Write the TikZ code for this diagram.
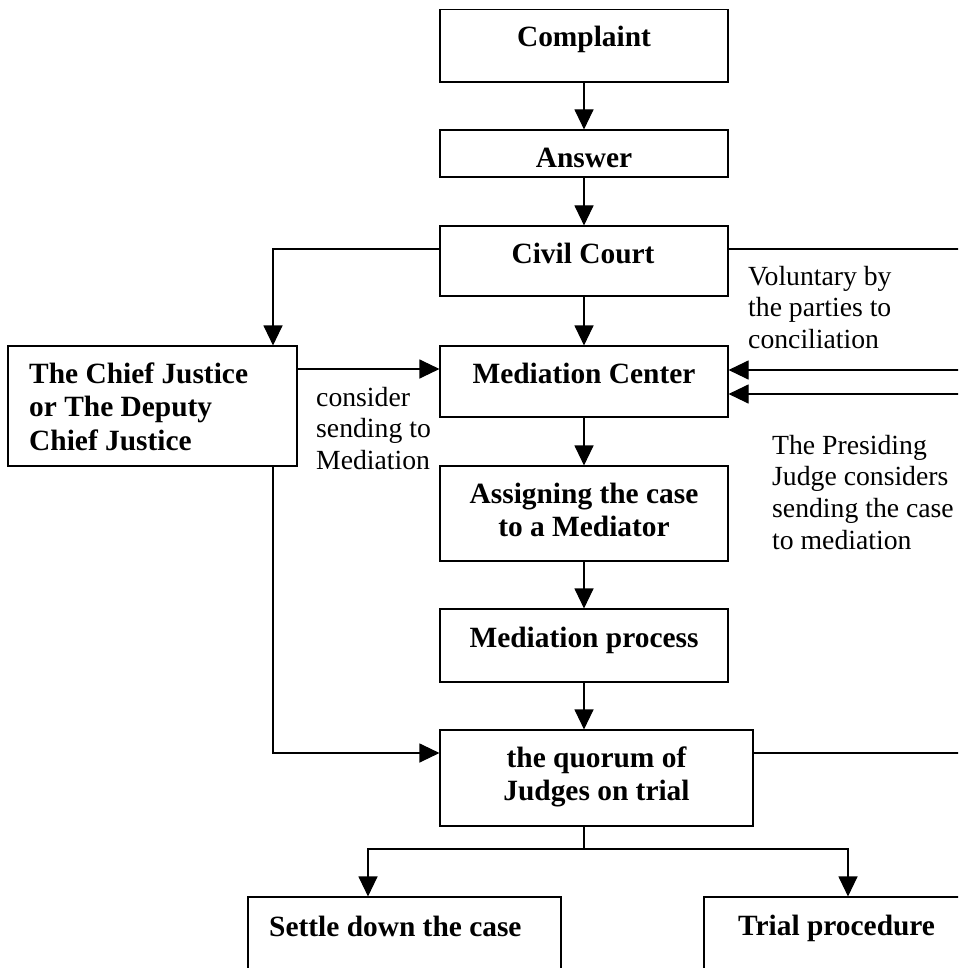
\documentclass[tikz,border=0pt]{standalone}
\usepackage{fontspec}
\setmainfont{Liberation Serif}
\usetikzlibrary{arrows.meta}
\begin{document}
\begin{tikzpicture}[x=1pt,y=-1pt,
  box/.style={draw, line width=1.1pt, inner sep=0pt, minimum width=288pt},
  ln/.style={line width=1.1pt},
  arr/.style={line width=1.1pt, -{Triangle[length=20pt,width=19pt]}},
  bt/.style={font=\fontsize{29.4}{33.5}\selectfont\bfseries, inner sep=0pt},
  nt/.style={font=\fontsize{27.7}{31.8}\selectfont, inner sep=0pt}]
\useasboundingbox (0,0) rectangle (958,968);
\clip (0,0) rectangle (958,968);
% boxes
\node[box, minimum height=72.5pt] (comp) at (584,45.75) {};
\node[box, minimum height=47pt] (ans) at (584,153.5) {};
\node[box, minimum height=70pt] (civ) at (584,261) {};
\node[box, minimum height=71pt] (mc) at (584,381.5) {};
\node[box, minimum height=95pt] (asg) at (584,513.5) {};
\node[box, minimum height=73pt] (mp) at (584,645.5) {};
\node[box, minimum width=313pt, minimum height=96pt] (quo) at (596.5,778) {};
\node[box, minimum width=289pt, minimum height=120pt] (cj) at (152.5,406) {};
\node[box, minimum width=313pt, minimum height=103pt] (set) at (404.5,948.5) {};
\node[box, minimum width=306pt, minimum height=103pt] (tri) at (857,948.5) {};
% texts
\node[bt, anchor=base] (tcomp) at (584,47) {Complaint};
\node[bt, anchor=base] (tans) at (584,168) {Answer};
\node[bt, anchor=base] (tciv) at (583,263) {Civil Court};
\node[bt, anchor=base] (tmc) at (584,383) {Mediation Center};
\node[bt, anchor=base] (tasg) at (584,503) {\begin{tabular}[t]{@{}c@{}}Assigning the case\\ to a Mediator\end{tabular}};
\node[bt, anchor=base] (tmp) at (584,647) {Mediation process};
\node[bt, anchor=base] (tquo) at (596.5,767) {\begin{tabular}[t]{@{}c@{}}the quorum of\\ Judges on trial\end{tabular}};
\node[bt, anchor=base west] (tcj) at (29,383) {\begin{tabular}[t]{@{}l@{}}The Chief Justice\\ or The Deputy\\ Chief Justice\end{tabular}};
\node[bt, anchor=base west] (tset) at (269,936) {Settle down the case};
\node[bt, anchor=base west] (ttri) at (738,935) {Trial procedure};
\node[nt, anchor=base west] (lcons) at (316,406) {\begin{tabular}[t]{@{}l@{}}consider\\ sending to\\ Mediation\end{tabular}};
\node[nt, anchor=base west] (lvol) at (748,285) {\begin{tabular}[t]{@{}l@{}}Voluntary by\\ the parties to\\ conciliation\end{tabular}};
\node[nt, anchor=base west] (lpres) at (772,454) {\begin{tabular}[t]{@{}l@{}}The Presiding\\ Judge considers\\ sending the case\\ to mediation\end{tabular}};
% main column
\draw[arr] (comp) -- (ans);
\draw[arr] (ans) -- (civ);
\draw[arr] (civ) -- (mc);
\draw[arr] (mc) -- (asg);
\draw[arr] (asg) -- (mp);
\draw[arr] (mp.south) -- (mp.south |- quo.north);
% split to outcomes
\coordinate (split) at (584,849);
\draw[ln] (mp.south |- quo.south) -- (split);
\draw[arr] (split) -| ([xshift=-36.5pt]set.north);
\draw[arr] (split) -| ([xshift=-9pt]tri.north);
% left branch
\coordinate (cjin) at ([xshift=120.5pt]cj.north);
\draw[arr] ([yshift=12pt]civ.west) -| (cjin);
\draw[arr] ([yshift=37pt]cj.east) -- ([yshift=37pt]cj.east -| mc.west);
\draw[arr] ([xshift=120.5pt]cj.south) |- ([yshift=25pt]quo.west);
% right branch (cut at the edge)
\coordinate (rt1) at (962,249);
\coordinate (rt2) at (962,370);
\coordinate (rt3) at (962,394);
\coordinate (rt4) at (962,753);
\draw[ln] ([yshift=12pt]civ.east) -- (rt1);
\draw[arr] (rt2) -- (rt2 -| mc.east);
\draw[arr] (rt3) -- (rt3 -| mc.east);
\draw[ln] ([yshift=25pt]quo.east) -- (rt4);
\end{tikzpicture}
\end{document}
